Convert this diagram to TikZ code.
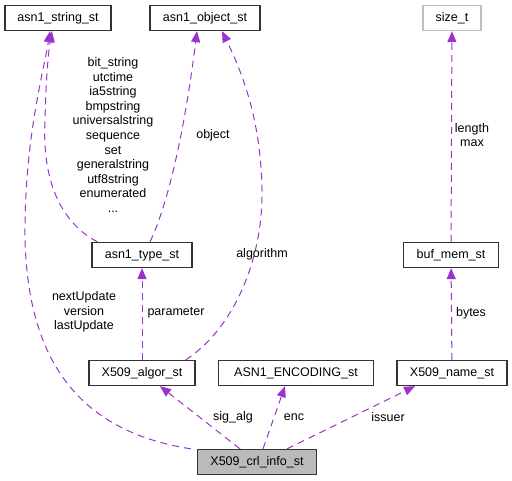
\documentclass[tikz,border=0pt]{standalone}
\usepackage{fontspec}
\setmainfont{Liberation Sans}
\usetikzlibrary{arrows.meta}
\definecolor{edgepurple}{HTML}{9A32CD}
\tikzset{
  box/.style={draw=black!80, line width=1.3pt, fill=white, minimum height=25, inner sep=0pt,
    font=\fontsize{12.5}{14}\selectfont},
  grbox/.style={box, draw=black!25},
  rootbox/.style={box, fill=black!27},
  uses/.style={edgepurple, dashed, dash pattern=on 7pt off 5pt, line width=1pt,
    -{Triangle[length=11pt,width=9pt]}},
  lab/.style={inner sep=0pt, align=center, font=\fontsize{12.5}{14.6}\selectfont}
}
\begin{document}
\begin{tikzpicture}[x=1pt,y=-1pt]
\useasboundingbox (0,0) rectangle (512,481);
% structs
\node[box, minimum width=106] (str) at (58,18) {asn1\_string\_st};
\node[box, minimum width=110] (obj) at (205,18) {asn1\_object\_st};
\node[grbox, minimum width=58] (size) at (452,18) {size\_t};
\node[box, minimum width=100] (type) at (142,255) {asn1\_type\_st};
\node[box, minimum width=95] (buf) at (451,255) {buf\_mem\_st};
\node[box, minimum width=106] (algor) at (142,373) {X509\_algor\_st};
\node[box, minimum width=155] (enc) at (296,373) {ASN1\_ENCODING\_st};
\node[box, minimum width=110] (name) at (452,373) {X509\_name\_st};
\node[rootbox, minimum width=119] (crl) at (257,462) {X509\_crl\_info\_st};
% curved members
\draw[uses] ([xshift=-6]crl.north west) .. controls (70,430) and (28,350) .. (25,240)
  .. controls (24,140) and (44,70) .. ([xshift=-8]str.south);
\draw[uses] ([xshift=6]type.north west) .. controls (60,222) and (42,180) .. (45,120)
  .. controls (46,80) and (48,55) .. ([xshift=-6]str.south);
\draw[uses] ([xshift=8]type.north) .. controls (170,200) and (186,120) .. ([xshift=-8]obj.south);
\draw[uses] ([xshift=-10]algor.north east) .. controls (232,330) and (263,262) .. (262,190)
  .. controls (261,120) and (242,72) .. ([xshift=17]obj.south);
% straight members
\draw[uses] (algor) -- (type);
\draw[uses] (name) -- (buf);
\draw[uses] (buf) -- (size);
\draw[uses] ([xshift=-17]crl.north) -- ([xshift=18]algor.south);
\draw[uses] ([xshift=6]crl.north) -- ([xshift=-11]enc.south);
\draw[uses] ([xshift=30]crl.north) -- ([xshift=-37]name.south);
% member names
\node[lab] (l1) at (84,312) {nextUpdate\\version\\lastUpdate};
\node[lab] (l2) at (113,135) {bit\_string\\utctime\\ia5string\\bmpstring\\universalstring\\sequence\\set\\generalstring\\utf8string\\enumerated\\...};
\node[lab] (l3) at (213,135) {object};
\node[lab] (l4) at (262,254) {algorithm};
\node[lab] (l5) at (176,313) {parameter};
\node[lab] (l6) at (472,135) {length\\max};
\node[lab] (l7) at (471,313) {bytes};
\node[lab] (l8) at (233,417) {sig\_alg};
\node[lab] (l9) at (294,417) {enc};
\node[lab] (l10) at (388,417) {issuer};
\end{tikzpicture}
\end{document}
